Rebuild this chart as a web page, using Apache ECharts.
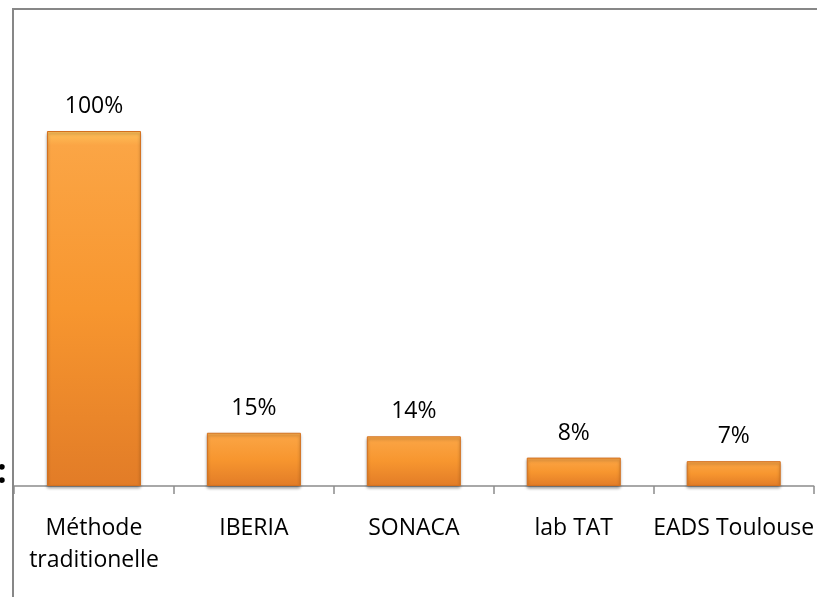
<!DOCTYPE html>
<html>
<head>
<meta charset="utf-8">
<script src="https://cdn.jsdelivr.net/npm/echarts@6/dist/echarts.min.js"></script>
<style>
html,body{margin:0;padding:0;background:#fff;}
#chart{width:817px;height:598px;}
</style>
</head>
<body>
<div id="chart"></div>
<script>
const categories = ['Méthode\ntraditionelle', 'IBERIA', 'SONACA', 'lab TAT', 'EADS Toulouse'];
const values = [100, 15, 14, 8, 7];

const chart = echarts.init(document.getElementById('chart'));
const FONT = '"Open Sans"';
chart.setOption({
  animation: false,
  backgroundColor: '#ffffff',
  grid: { left: 14, right: 2, top: 60, bottom: 112, containLabel: false },
  xAxis: {
    type: 'category',
    data: categories,
    axisLine: { lineStyle: { color: '#8c8c8c', width: 1.5 } },
    axisTick: { show: true, length: 8, lineStyle: { color: '#8c8c8c', width: 1.5 } },
    axisLabel: { color: '#000', fontFamily: FONT, fontSize: 23, lineHeight: 32, margin: 26, interval: 0 }
  },
  yAxis: {
    type: 'value', min: 0, max: 120,
    axisLine: { show: false }, axisTick: { show: false },
    axisLabel: { show: false }, splitLine: { show: false }
  },
  series: [{
    type: 'bar',
    data: values,
    barWidth: 94,
    label: {
      show: true, position: 'top', distance: 13,
      formatter: p => p.value + '%',
      color: '#000', fontFamily: FONT, fontSize: 23
    },
    itemStyle: {
      color: new echarts.graphic.LinearGradient(0, 0, 0, 1, [
        { offset: 0, color: '#FFC25A' },
        { offset: 0.04, color: '#FBA545' },
        { offset: 0.5, color: '#F7962F' },
        { offset: 1, color: '#E27C27' }
      ]),
      borderColor: '#D4701E',
      borderWidth: 1,
      shadowColor: 'rgba(0,0,0,0.35)',
      shadowBlur: 3,
      shadowOffsetY: 2
    }
  }],
  graphic: [
    { type: 'line', shape: { x1: 13, y1: 9, x2: 830, y2: 9 }, style: { stroke: '#878787', lineWidth: 2 }, z: 10 },
    { type: 'line', shape: { x1: 13, y1: 8, x2: 13, y2: 597 }, style: { stroke: '#878787', lineWidth: 2 }, z: 10 },
    { type: 'text', left: -3, top: 456, style: { text: ':', font: 'bold 34px ' + FONT, fill: '#000' } }
  ]
});
</script>
</body>
</html>
